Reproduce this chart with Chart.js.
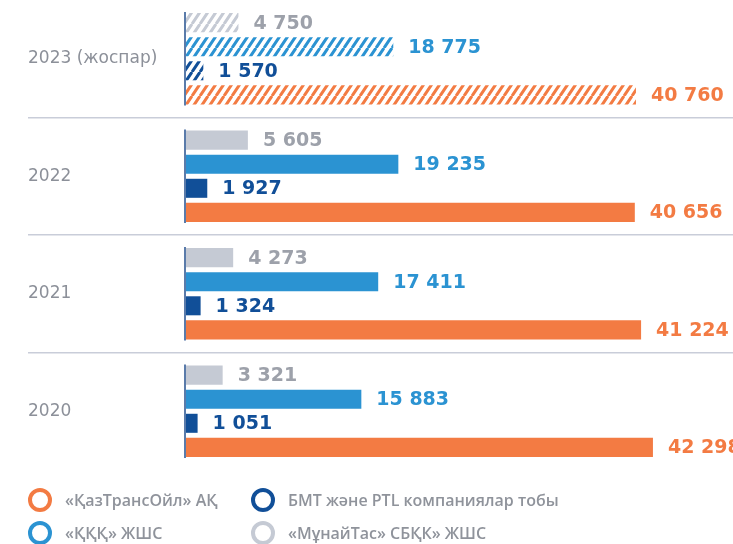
<!DOCTYPE html>
<html>
<head>
<meta charset="utf-8">
<script src="https://cdn.jsdelivr.net/npm/chart.js@4.4.0/dist/chart.umd.min.js"></script>
<style>
  body { margin: 0; background: #fff; }
  #wrap { width: 733px; height: 544px; position: relative; }
</style>
</head>
<body>
<div id="wrap"><canvas id="production"></canvas></div>
<script>
// categories (top to bottom)
const years = ["2023 (жоспар)", "2022", "2021", "2020"];

// series values, thousand tonnes
const munaiTas = [4750, 5605, 4273, 3321];
const kkk = [18775, 19235, 17411, 15883];
const bmt = [1570, 1927, 1324, 1051];
const kazTransOil = [40760, 40656, 41224, 42298];

const seriesNames = ["«МұнайТас» СБҚК» ЖШС", "«ҚҚҚ» ЖШС", "БМТ және PTL компаниялар тобы", "«ҚазТрансОйл» АҚ"];
const barColors = ["#c5cad4", "#2b93d2", "#114f98", "#f37b43"];
const textColors = ["#9da1aa", "#2b93d2", "#114f98", "#f37b43"];

// legend is laid out in two rows, by dataset index
const legendRows = [[3, 2], [1, 0]];

const planIndex = 0; // 2023 plan is drawn hatched

function makeHatch(color) {
    const c = document.createElement("canvas");
    c.width = 8;
    c.height = 12;
    const g = c.getContext("2d");
    g.strokeStyle = color;
    g.lineWidth = 3;
    g.beginPath();
    g.moveTo(0, 0); g.lineTo(-8, 12);
    g.moveTo(8, 0); g.lineTo(0, 12);
    g.moveTo(16, 0); g.lineTo(8, 12);
    g.stroke();
    return g.createPattern(c, "repeat");
}

function fmt(n) {
    return n.toString().replace(/\B(?=(\d{3})+(?!\d))/g, " ");
}

const valueLabels = {
    id: "valueLabels",
    afterDatasetsDraw(chart) {
        const ctx = chart.ctx;
        ctx.save();
        ctx.font = 'bold 19px "DejaVu Sans"';
        ctx.textBaseline = "middle";
        ctx.textAlign = "left";
        chart.data.datasets.forEach((ds, i) => {
            ctx.fillStyle = textColors[i];
            chart.getDatasetMeta(i).data.forEach((bar, j) => {
                ctx.fillText(fmt(ds.data[j]), bar.x + 15, bar.y + 1);
            });
        });
        ctx.restore();
    }
};

// short axis line next to each group of bars
const groupAxis = {
    id: "groupAxis",
    afterDatasetsDraw(chart) {
        const ctx = chart.ctx;
        const first = chart.getDatasetMeta(0).data;
        const last = chart.getDatasetMeta(chart.data.datasets.length - 1).data;
        const x = chart.chartArea.left - 1;
        ctx.save();
        ctx.strokeStyle = "#234f8e";
        ctx.lineWidth = 1.5;
        first.forEach((bar, j) => {
            ctx.beginPath();
            ctx.moveTo(x, bar.y - bar.height / 2 - 1);
            ctx.lineTo(x, last[j].y + last[j].height / 2 + 1);
            ctx.stroke();
        });
        ctx.restore();
    }
};

const ringLegend = {
    id: "ringLegend",
    afterDraw(chart) {
        const ctx = chart.ctx;
        const colX = [40, 263];
        const rowY = [500, 533];
        ctx.save();
        ctx.font = '600 16px "Open Sans"';
        ctx.textBaseline = "middle";
        legendRows.forEach((row, r) => {
            row.forEach((i, c) => {
                ctx.beginPath();
                ctx.arc(colX[c], rowY[r], 10, 0, Math.PI * 2);
                ctx.strokeStyle = barColors[i];
                ctx.lineWidth = 4;
                ctx.stroke();
                ctx.fillStyle = "#8f939b";
                ctx.fillText(seriesNames[i], colX[c] + 25, rowY[r] + 1);
            });
        });
        ctx.restore();
    }
};

const seriesData = [munaiTas, kkk, bmt, kazTransOil];

const chartOptions = {
    type: "bar",
    data: {
        labels: years,
        datasets: seriesData.map((values, i) => {
            const hatch = makeHatch(barColors[i]);
            return {
                label: seriesNames[i],
                data: values,
                backgroundColor: (c) => c.dataIndex === planIndex ? hatch : barColors[i],
                borderWidth: 0,
                categoryPercentage: 0.82,
                barPercentage: 0.79,
            };
        }),
    },
    options: {
        indexAxis: "y",
        responsive: true,
        maintainAspectRatio: false,
        animation: false,
        layout: {
            padding: { left: 28, right: 0, top: 0, bottom: 74 },
        },
        plugins: {
            legend: { display: false },
            tooltip: { enabled: false },
        },
        scales: {
            x: {
                display: false,
                min: 0,
                max: 49550,
            },
            y: {
                afterFit: (scale) => {
                    scale.width = 158;
                    scale.paddingTop = 0;
                    scale.paddingBottom = 0;
                },
                border: { display: false },
                grid: {
                    offset: true,
                    drawOnChartArea: true,
                    tickLength: 158,
                    lineWidth: 1.5,
                    color: (c) => c.index > 0 ? "#c9cdd9" : "rgba(0,0,0,0)",
                },
                ticks: {
                    crossAlign: "far",
                    padding: 0,
                    color: "#8c9099",
                    font: { family: "DejaVu Sans", size: 17 },
                },
            },
        },
    },
    plugins: [valueLabels, groupAxis, ringLegend],
};

new Chart("production", chartOptions);
</script>
</body>
</html>
